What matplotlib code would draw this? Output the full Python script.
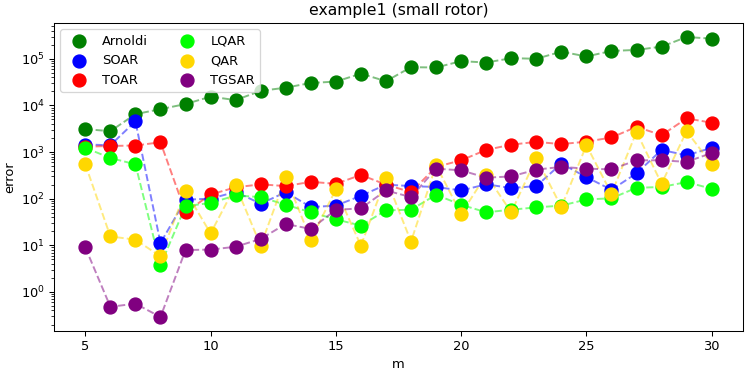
import matplotlib
matplotlib.use("Agg")
import matplotlib.pyplot as plt
import numpy as np

m = list(range(5, 31))

arnoldi = [3100, 2800, 6500, 8300, 10700, 15400, 13000, 20500, 24000, 30300, 32400, 48000, 33000,
           66000, 65000, 89000, 83000, 103000, 100000, 142000, 112000, 147000, 155000, 182000, 293000, 270000]
soar = [1450, 1400, 4550, 11.2, 95, 100, 140, 78, 138, 66, 71, 115, 200,
        186, 178, 150, 203, 169, 186, 565, 290, 155, 350, 1110, 850, 1230]
toar = [1300, 1350, 1380, 1620, 51, 123, 175, 203, 186, 230, 208, 323, 200,
        138, 480, 665, 1110, 1440, 1650, 1480, 1670, 2050, 3470, 2300, 5260, 4260]
lqar = [1230, 745, 545, 3.76, 69, 81, 117, 108, 74, 51, 36, 26.5, 56,
        58, 121, 74, 51, 58, 65, 71, 96, 102, 171, 178, 227, 163]
qar = [545, 15.5, 13.2, 5.8, 145, 18, 192, 9.8, 290, 13.2, 158, 9.8, 277,
       12.0, 520, 47, 325, 51, 745, 66, 1400, 128, 2700, 209, 2800, 545]
tgsar = [9.0, 0.48, 0.56, 0.29, 7.9, 8.1, 9.3, 13.7, 28.7, 22.4, 57.6, 62, 150,
         108, 440, 405, 282, 300, 420, 480, 440, 425, 665, 665, 615, 955]

series = [("Arnoldi", arnoldi, "green"), ("SOAR", soar, "blue"), ("TOAR", toar, "red"),
          ("LQAR", lqar, "lime"), ("QAR", qar, "gold"), ("TGSAR", tgsar, "purple")]

DPI = 93.4
fig = plt.figure(figsize=(747 / DPI, 374 / DPI), dpi=DPI)
ax = fig.add_axes([54 / 747, 1 - 331 / 374, (743 - 54) / 747, (331 - 23) / 374])
for name, vals, col in series:
    ax.plot(m, vals, "--", color=col, alpha=0.5, linewidth=1.5)
    ax.scatter(m, vals, s=100, color=col, label=name, zorder=3)
ax.set_yscale("log")
ax.set_xlabel("m")
ax.set_ylabel("error")
ax.set_title("example1 (small rotor)")
ax.legend(loc="upper left", ncol=2)
fig.savefig("out.png", dpi=DPI)
